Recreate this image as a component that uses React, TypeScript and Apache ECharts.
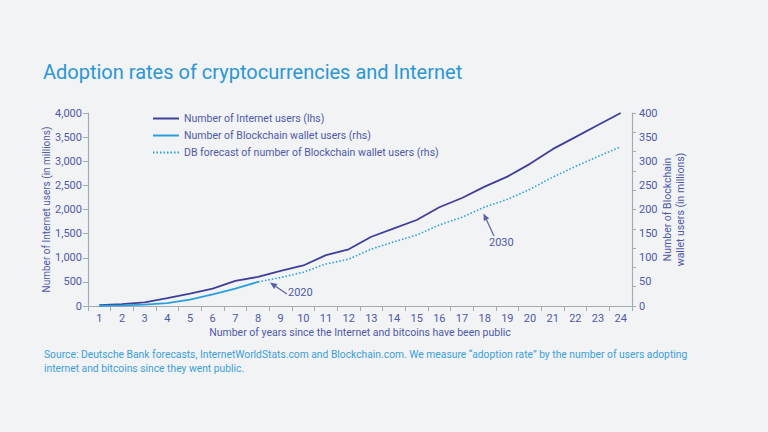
import React, { useEffect, useRef } from "react";
import * as echarts from "echarts";

const years = ["1","2","3","4","5","6","7","8","9","10","11","12","13","14","15","16","17","18","19","20","21","22","23","24"];
const internetUsers = [16, 40, 77, 165, 257, 361, 520, 603, 728, 840, 1054, 1175, 1435, 1609, 1782, 2046, 2239, 2474, 2682, 2946, 3251, 3500, 3750, 4000];
const walletUsers = [0.5, 1.5, 3, 6, 13, 24, 36, 50, null, null, null, null, null, null, null, null, null, null, null, null, null, null, null, null];
const walletForecast = [null, null, null, null, null, null, null, 50, 59, 70, 87, 97, 118, 133, 147, 168, 184, 205, 221, 242, 267, 289, 310, 330];
const leftTicks = [0, 500, 1000, 1500, 2000, 2500, 3000, 3500, 4000];
const rightLabels = [0, 50, 100, 150, 200, 250, 300, 350, 400];

const FONT = "Roboto";
const AXIS_TEXT = "#4e59a8";
const AXIS_LINE = "#a3abb5";
const DARK = "#3f3f9a";
const LIGHT = "#2b9fdc";

function arrow(tail: number[], head: number[], color: string) {
  const dx = head[0] - tail[0];
  const dy = head[1] - tail[1];
  const len = Math.sqrt(dx * dx + dy * dy);
  const ux = dx / len, uy = dy / len;
  const bx = head[0] - ux * 7, by = head[1] - uy * 7;
  const px = -uy * 3, py = ux * 3;
  return [
    { type: "line", shape: { x1: tail[0], y1: tail[1], x2: bx, y2: by }, style: { stroke: color, lineWidth: 1.2 } },
    { type: "polygon", shape: { points: [[head[0], head[1]], [bx + px, by + py], [bx - px, by - py]] }, style: { fill: color } },
  ];
}

export default function App() {
  const ref = useRef<HTMLDivElement>(null);
  useEffect(() => {
    if (!ref.current) return;
    const chart = echarts.init(ref.current, undefined, { renderer: "svg" });
    chart.setOption({
      animation: false,
      backgroundColor: "#f2f3f5",
      textStyle: { fontFamily: FONT },
      title: {
        text: "Adoption rates of cryptocurrencies and Internet",
        left: 38,
        top: 57,
        textStyle: { color: "#2a96d6", fontSize: 20, fontWeight: "normal", fontFamily: FONT },
      },
      legend: {
        orient: "vertical",
        left: 147,
        top: 108,
        itemWidth: 26,
        itemHeight: 10,
        itemGap: 6,
        itemStyle: { opacity: 0 },
        textStyle: { color: AXIS_TEXT, fontSize: 10.5, fontFamily: FONT },
        data: ["Number of Internet users (lhs)", "Number of Blockchain wallet users (rhs)", "DB forecast of number of Blockchain wallet users (rhs)"],
      },
      grid: { left: 88, right: 136, top: 113, bottom: 126 },
      xAxis: {
        type: "category",
        data: years,
        boundaryGap: true,
        axisLine: { lineStyle: { color: AXIS_LINE, width: 1.2 } },
        axisTick: { show: true, length: 5, lineStyle: { color: AXIS_LINE } },
        axisLabel: { color: AXIS_TEXT, fontSize: 11, margin: 7, interval: 0 },
        name: "Number of years since the Internet and bitcoins have been public",
        nameLocation: "middle",
        nameGap: 21,
        nameMoveOverlap: false,
        nameTextStyle: { color: AXIS_TEXT, fontSize: 10.5 },
      },
      yAxis: [
        {
          type: "value",
          position: "left",
          min: leftTicks[0],
          max: leftTicks[leftTicks.length - 1],
          interval: 500,
          axisLine: { show: true, lineStyle: { color: AXIS_LINE, width: 1.2 } },
          axisTick: { show: true, length: 5, lineStyle: { color: AXIS_LINE } },
          axisLabel: { color: AXIS_TEXT, fontSize: 11, margin: 6, formatter: (v: number) => v.toLocaleString("en-US") },
          splitLine: { show: false },
          name: "Number of Internet users (in millions)",
          nameLocation: "middle",
          nameGap: 37,
          nameMoveOverlap: false,
          nameTextStyle: { color: AXIS_TEXT, fontSize: 10 },
        },
        {
          type: "value",
          position: "right",
          min: rightLabels[0],
          max: rightLabels[rightLabels.length - 1],
          interval: 50,
          axisLine: { show: true, lineStyle: { color: AXIS_LINE, width: 1.2 } },
          axisTick: { show: false },
          axisLabel: { color: AXIS_TEXT, fontSize: 11, margin: 7 },
          splitLine: { show: false },
          name: "Number of Blockchain\nwallet users (in millions)",
          nameLocation: "middle",
          nameGap: 29,
          nameRotate: 90,
          nameMoveOverlap: false,
          nameTextStyle: { color: AXIS_TEXT, fontSize: 10.5, lineHeight: 13, align: "center" },
        },
        {
          type: "value",
          position: "right",
          min: 0,
          max: 400,
          interval: 40,
          axisLine: { show: false },
          axisTick: { show: true, length: 4, lineStyle: { color: AXIS_LINE } },
          axisLabel: { show: false },
          splitLine: { show: false },
        },
      ],
      series: [
        {
          name: "Number of Internet users (lhs)",
          type: "line",
          yAxisIndex: 0,
          data: internetUsers,
          symbol: "none",
          lineStyle: { color: DARK, width: 1.8 },
          itemStyle: { color: DARK },
        },
        {
          name: "Number of Blockchain wallet users (rhs)",
          type: "line",
          yAxisIndex: 1,
          data: walletUsers,
          symbol: "none",
          lineStyle: { color: LIGHT, width: 1.8 },
          itemStyle: { color: LIGHT },
        },
        {
          name: "DB forecast of number of Blockchain wallet users (rhs)",
          type: "line",
          yAxisIndex: 1,
          data: walletForecast,
          symbol: "none",
          lineStyle: { color: LIGHT, width: 1.6, type: [1.5, 2] },
          itemStyle: { color: LIGHT },
        },
      ],
      graphic: [
        ...arrow([287, 294], [270, 282.5], "#5a5fa8"),
        { type: "text", left: 288, top: 287, style: { text: "2020", fill: AXIS_TEXT, fontSize: 11, fontFamily: FONT } },
        ...arrow([494, 236], [483.5, 213.5], "#5a5fa8"),
        { type: "text", left: 489, top: 237, style: { text: "2030", fill: AXIS_TEXT, fontSize: 11, fontFamily: FONT } },
        {
          type: "text",
          left: 44,
          top: 347,
          style: {
            text: "Source: Deutsche Bank forecasts, InternetWorldStats.com and Blockchain.com. We measure “adoption rate” by the number of users adopting\ninternet and bitcoins since they went public.",
            fill: "#3aa0da",
            fontSize: 10.3,
            lineHeight: 14,
            fontFamily: FONT,
          },
        },
      ],
    });
    return () => chart.dispose();
  }, []);
  return <div ref={ref} style={{ position: "fixed", left: 0, top: 0, width: 768, height: 432 }} />;
}
